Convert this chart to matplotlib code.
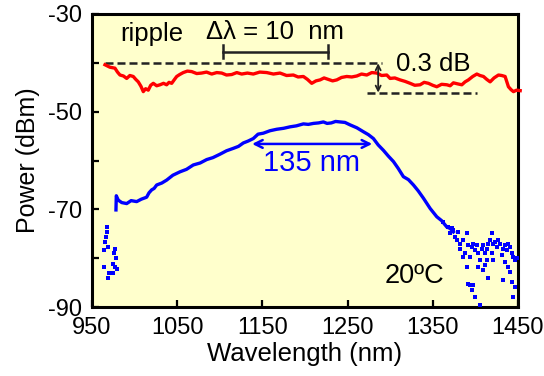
import matplotlib
matplotlib.use("Agg")
import matplotlib.pyplot as plt

plt.rcParams['font.family'] = ['Liberation Sans', 'DejaVu Sans']

# red trace: spectrum flatness (wavelength nm, power dBm)
rojo_nm = [965.3, 971.0, 977.0, 980.0, 982.9, 987.0, 990.8, 994.5, 998.5, 1001.5,
           1004.4, 1007.5, 1010.3, 1013.0, 1016.1, 1019.0, 1022.0, 1026.0, 1029.9, 1034.0,
           1037.7, 1040.5, 1043.6, 1046.5, 1049.5, 1053.0, 1057.2, 1062.0, 1067.1, 1073.0,
           1078.8, 1084.5, 1090.6, 1096.5, 1102.3, 1108.0, 1114.1, 1120.0, 1125.8, 1132.5,
           1139.4, 1147.0, 1155.2, 1163.0, 1170.8, 1178.5, 1186.4, 1192.0, 1198.2, 1203.0,
           1208.0, 1213.0, 1217.8, 1222.5, 1227.5, 1232.5, 1237.4, 1243.0, 1249.1, 1255.0,
           1260.9, 1266.5, 1272.6, 1278.5, 1284.4, 1290.0, 1296.1, 1300.0, 1305.5, 1311.7,
           1317.5, 1323.5, 1329.0, 1335.2, 1340.0, 1345.0, 1350.0, 1354.8, 1360.5, 1366.6,
           1370.5, 1374.3, 1379.0, 1384.2, 1388.0, 1391.9, 1397.0, 1401.8, 1405.5, 1409.6,
           1413.5, 1417.4, 1422.0, 1427.2, 1431.0, 1435.0, 1438.9, 1442.0, 1444.8, 1448.5,
           1452.7]
rojo_db = [-40.4, -40.9, -41.1, -41.9, -42.5, -42.7, -43.2, -42.6, -42.8, -43.4,
           -43.9, -44.8, -45.9, -45.3, -45.6, -44.6, -44.2, -44.7, -44.5, -44.2,
           -44.5, -44.0, -44.2, -43.5, -42.8, -42.4, -42.0, -41.7, -41.8, -42.2,
           -42.1, -41.9, -42.3, -42.0, -42.1, -42.5, -42.4, -42.0, -42.3, -42.1,
           -42.3, -41.9, -42.0, -42.3, -42.1, -42.6, -42.5, -42.9, -42.8, -43.4,
           -44.2, -43.7, -43.5, -43.1, -43.4, -43.7, -43.5, -43.0, -42.8, -42.9,
           -42.7, -42.3, -42.5, -42.0, -42.1, -42.6, -42.5, -43.2, -43.1, -43.5,
           -43.8, -44.2, -44.6, -44.5, -44.0, -44.2, -44.6, -44.9, -44.4, -44.5,
           -44.7, -44.1, -44.3, -44.5, -43.9, -43.5, -42.8, -42.3, -42.6, -42.8,
           -43.4, -43.9, -43.1, -42.5, -42.6, -42.8, -44.9, -45.5, -45.9, -45.6,
           -45.7]

# blue trace: continuous part
azul_nm = [978.2, 978.6, 980.9, 985.0, 990.8, 996.0, 1002.5, 1008.0, 1014.2, 1017.0,
           1020.1, 1023.0, 1026.0, 1032.0, 1037.7, 1045.0, 1053.4, 1061.0, 1069.0, 1077.0,
           1084.7, 1092.0, 1100.3, 1108.0, 1116.0, 1122.0, 1127.7, 1133.5, 1139.4, 1145.0,
           1151.2, 1159.0, 1166.9, 1175.0, 1182.6, 1190.0, 1198.2, 1204.0, 1210.0, 1216.0,
           1221.7, 1226.0, 1231.0, 1236.0, 1241.3, 1247.0, 1253.0, 1261.0, 1268.6, 1274.5,
           1280.4, 1286.0, 1292.1, 1298.0, 1303.9, 1309.5, 1315.6, 1321.5, 1327.4, 1333.0,
           1339.1, 1347.0, 1354.8, 1360.5, 1366.6, 1370.5, 1374.3]
azul_db = [-70.1, -67.2, -68.1, -68.6, -68.8, -68.2, -68.4, -67.9, -67.5, -66.6,
           -66.0, -65.7, -65.0, -64.6, -64.0, -63.0, -62.3, -61.8, -60.9, -60.5,
           -59.8, -59.4, -58.7, -58.0, -57.5, -57.1, -56.4, -56.0, -55.5, -54.6,
           -54.4, -53.9, -53.6, -53.4, -53.1, -52.9, -52.5, -52.6, -52.4, -52.3,
           -52.1, -52.4, -52.3, -52.0, -52.1, -52.2, -52.7, -53.3, -54.1, -54.7,
           -55.5, -56.8, -57.9, -59.1, -60.2, -61.6, -63.3, -63.9, -65.0, -66.2,
           -67.7, -69.8, -71.5, -72.3, -73.6, -73.9, -74.6]

# blue trace: scattered noise samples
puntos_nm = [967.2, 968.0, 966.4, 965.2, 969.2, 964.5, 977.0, 976.2, 977.8, 975.0,
             964.5, 977.0, 978.9, 969.9, 969.2, 975.0,
             1362.6, 1368.5, 1372.4, 1370.4, 1380.2, 1374.4, 1376.3, 1378.3, 1382.2, 1382.2,
             1386.1, 1386.1, 1388.1, 1390.0, 1392.0, 1393.9, 1395.9, 1397.8, 1399.8, 1401.8,
             1403.7, 1405.7, 1407.6, 1409.6, 1411.5, 1413.5, 1415.5, 1417.4, 1419.4, 1421.3,
             1423.3, 1425.2, 1427.2, 1429.2, 1431.1, 1433.1, 1435.0, 1437.0, 1438.9, 1440.9,
             1442.9, 1444.8, 1446.8, 1448.7, 1390.0, 1393.9, 1395.9, 1399.8, 1403.7, 1405.7,
             1409.6, 1411.5, 1413.5, 1415.5, 1419.4, 1421.3, 1433.1, 1435.0, 1438.9, 1440.9,
             1442.9, 1444.8, 1446.8, 1392.0, 1397.8]
puntos_db = [-73.6, -74.6, -75.6, -76.6, -77.7, -78.3, -78.0, -79.0, -80.0, -81.1,
             -81.7, -81.7, -82.1, -83.1, -84.1, -83.1,
             -72.5, -73.5, -73.9, -74.9, -74.6, -74.2, -75.6, -76.3, -77.0, -78.0,
             -76.3, -79.7, -79.0, -74.9, -77.3, -79.7, -77.6, -77.0, -78.3, -77.3,
             -79.0, -80.4, -78.0, -77.3, -79.0, -78.0, -77.0, -76.3, -74.9, -77.0,
             -76.6, -77.6, -76.3, -77.0, -79.4, -78.0, -77.3, -78.3, -77.0, -77.6,
             -79.0, -79.7, -80.4, -80.0, -81.7, -85.5, -86.5, -87.9, -81.7, -89.6,
             -82.4, -81.4, -80.4, -84.1, -79.0, -80.4, -84.5, -80.7, -81.7, -82.8,
             -84.8, -87.9, -85.8, -85.2, -85.5]

xticks = [950, 1050, 1150, 1250, 1350, 1450]
yticks = [-90, -80, -70, -60, -50, -40, -30]
ylabels = ['-90', '', '-70', '', '-50', '', '-30']

fig = plt.figure(figsize=(5.44, 3.76), dpi=100)
ax = fig.add_axes([0.169, 0.183, 0.783, 0.78])
ax.set_facecolor('#FFFFCC')

ax.plot(rojo_nm, rojo_db, color='#FF0000', lw=2.4, clip_on=False, zorder=3)
ax.plot(azul_nm, azul_db, color='#0000FF', lw=2.4, zorder=3)
ax.plot(puntos_nm, puntos_db, 's', color='#0000FF', ms=2.3, mew=0, zorder=3)

# ripple annotation
ax.plot([965, 1290], [-40.1, -40.1], color='#222222', lw=1.8, dashes=(3.2, 1.6))
ax.plot([1273, 1402], [-46.1, -46.1], color='#222222', lw=1.8, dashes=(3.2, 1.6))
ax.annotate('', xy=(1286, -40.1), xytext=(1286, -46.1),
            arrowprops=dict(arrowstyle='<->', color='#222222', lw=1.3,
                            shrinkA=0, shrinkB=0, mutation_scale=9))
ax.text(1351, -40.3, '0.3 dB', fontsize=18.5, ha='center', va='center')
ax.text(983, -34.1, 'ripple', fontsize=18.5, ha='left', va='center')

# scale bar
ax.plot([1104, 1227], [-37.7, -37.7], color='#222222', lw=1.8)
ax.plot([1104, 1104], [-36.3, -39.0], color='#222222', lw=1.8)
ax.plot([1227, 1227], [-36.3, -39.0], color='#222222', lw=1.8)
ax.text(1165, -33.6, 'Δλ = 10  nm', fontsize=18.5, ha='center', va='center')

# bandwidth arrow
ax.annotate('', xy=(1138, -56.6), xytext=(1279, -56.6),
            arrowprops=dict(arrowstyle='<->', color='#0000FF', lw=1.8,
                            shrinkA=0, shrinkB=0, mutation_scale=14))
ax.text(1208, -60.4, '135 nm', fontsize=21, color='#0000FF', ha='center', va='center')
ax.text(1329, -83.6, '20ºC', fontsize=19.5, ha='center', va='center')

ax.set_xlim(950, 1450)
ax.set_ylim(-90, -30)
ax.set_xticks(xticks)
ax.set_yticks(yticks)
ax.set_yticklabels(ylabels)
ax.tick_params(direction='in', length=5, width=1.6, labelsize=17, pad=7)
for s in ax.spines.values():
    s.set_linewidth(2.2)

ax.set_xlabel('Wavelength (nm)', fontsize=18.5, labelpad=2)
ax.set_ylabel('Power (dBm)', fontsize=18, labelpad=6)

fig.savefig('out.png', dpi=100)
